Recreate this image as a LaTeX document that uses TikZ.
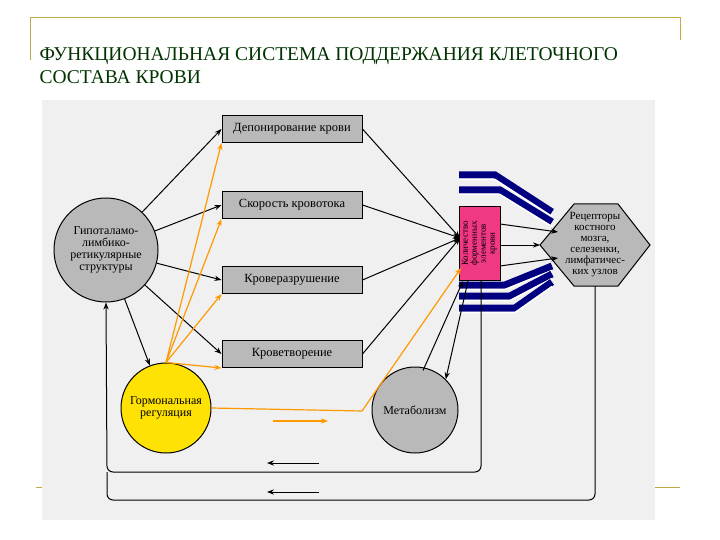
\documentclass[tikz,border=0pt]{standalone}
\usepackage{fontspec}
\setmainfont{Liberation Serif}
\usetikzlibrary{shapes.geometric,arrows.meta}
\begin{document}
\begin{tikzpicture}[x=1pt,y=-1pt,
  bx/.style={draw=black,line width=1pt,fill=gray!55,minimum width=140pt,minimum height=27pt,font=\fontsize{12.5}{13}\selectfont},
  circ/.style={circle,draw=black,line width=1pt,fill=gray!55,align=center,inner sep=0pt,font=\fontsize{12}{12}\selectfont},
  ar/.style={-{Stealth[length=7pt]},line width=1pt},
  oar/.style={-{Stealth[length=7pt]},line width=1.2pt,orange!80!yellow},
  band/.style={line width=7pt,blue!50!black},
  stripe/.style={line width=1.5pt,white}]
\useasboundingbox (0,0) rectangle (720,540);
\fill[white] (0,0) rectangle (720,540);
\draw[yellow!60!brown!80!black,line width=1pt] (30,60)--(30,18)--(680,18)--(680,40);
\draw[yellow!60!brown!80!black,line width=1pt] (36,487)--(60,487) (655,487)--(680,487);
\node[anchor=west,text=green!20!black,font=\fontsize{19.5}{23}\selectfont,align=left] (title) at (36,66) {ФУНКЦИОНАЛЬНАЯ СИСТЕМА ПОДДЕРЖАНИЯ КЛЕТОЧНОГО\\СОСТАВА КРОВИ};
\fill[gray!12] (42,100) rectangle (655,520);
% nodes
\node[circ,minimum size=104pt] (hyp) at (106,250) {Гипоталамо-\\лимбико-\\ретикулярные\\структуры};
\node[circ,fill=yellow!85!orange,minimum size=90pt] (horm) at (166,408) {Гормональная\\регуляция};
\node[circ,minimum size=86pt] (met) at (415,410) {Метаболизм};
\node[bx] (b1) at (292,129) {Депонирование крови};
\node[bx] (b2) at (292,205) {Скорость кровотока};
\node[bx] (b3) at (292,280) {Кроверазрушение};
\node[bx] (b4) at (292,354) {Кроветворение};
% bands
\foreach \a/\b/\c in {175/495/212, 190/500/222, 285/505/266, 296/510/274, 308/515/282}{
  \draw[band] (459,\a)--(\b,\a)--(552,\c);
  \draw[stripe] (459,\a+4.5)--(\b,\a+4.5)--(552,\c+4.5);
}
\node[draw=black,line width=1pt,fill=magenta!70!red!80,minimum width=41pt,minimum height=73pt] (red) at (479.5,243.5) {};
\node[rotate=90,align=center,font=\fontsize{9}{9}\selectfont] (redt) at (479.5,243.5) {Количество\\форменных\\элементов\\крови};
\filldraw[draw=black,line width=1pt,fill=gray!55] (540,245)--(574,204)--(618,204)--(650,245)--(618,286)--(574,286)--cycle;
\coordinate (hexw) at (540,245); \coordinate (hexs) at (595,286);
\node[align=center,font=\fontsize{11}{11}\selectfont] (hext) at (595,245) {Рецепторы\\костного\\мозга,\\селезенки,\\лимфатичес-\\ких узлов};
% black arrows
\draw[ar] (hyp) -- (b1.west);
\draw[ar] (hyp) -- (b2.west);
\draw[ar] (hyp) -- (b3.west);
\draw[ar] (hyp) -- (b4.west);
\draw[ar] (hyp) -- (horm);
\coordinate (rin) at (460,238);
\draw[ar] (b1.east) -- (rin);
\draw[ar] (b2.east) -- (rin);
\draw[ar] (b3.east) -- (rin);
\draw[ar] (b4.east) -- (rin);
\coordinate (r1) at (468,281); \coordinate (r2) at (463,281);
\draw[ar] (r1) -- (met.north east);
\draw[ar] (met.north) ++(8,4) coordinate (m1) -- (r2);
\coordinate (e1) at (500,224); \coordinate (e2) at (500,245); \coordinate (e3) at (500,266);
\coordinate (h1) at (558,232); \coordinate (h3) at (558,258);
\draw[ar] (e1) -- (h1);
\draw[ar] (e2) -- (hexw);
\draw[ar] (e3) -- (h3);
% orange arrows
\foreach \t in {b1,b2,b3,b4}{\draw[oar] (horm.north) -- (\t.south west);}
\coordinate (ob) at (362,411); \coordinate (rsw) at (461,268);
\draw[oar] (horm.east) -- (ob) -- (rsw);
\coordinate (os1) at (273,421); \coordinate (os2) at (328,421);
\draw[oar] (os1) -- (os2);
% feedback loops
\coordinate (f0) at (481,280); \coordinate (f1) at (481,472); \coordinate (f2) at (107,472);
\coordinate (g1) at (595,500); \coordinate (g2) at (107,500);
\draw[ar,rounded corners=6pt] (f0) -- (f1) -- (f2) -- (hyp.south);
\draw[line width=1pt,rounded corners=6pt] (hexs) -- (g1) -- (g2) -- (107,472);
\coordinate (a1) at (319,463); \coordinate (a2) at (267,463);
\coordinate (a3) at (319,492); \coordinate (a4) at (267,492);
\draw[ar] (a1) -- (a2);
\draw[ar] (a3) -- (a4);
\end{tikzpicture}
\end{document}
